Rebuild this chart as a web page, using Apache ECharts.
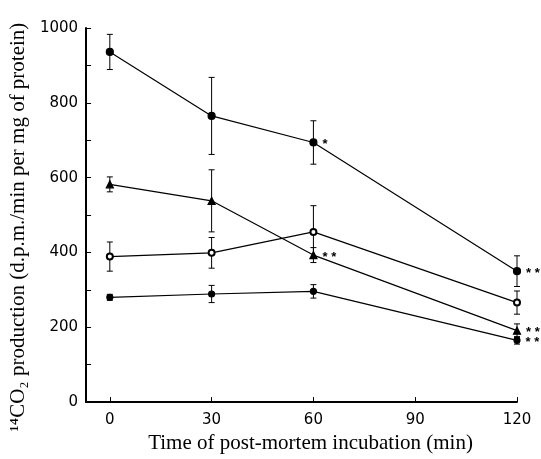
<!DOCTYPE html>
<html>
<head>
<meta charset="utf-8">
<script src="https://cdn.jsdelivr.net/npm/echarts@6/dist/echarts.min.js"></script>
<style>
html,body{margin:0;padding:0;background:#fff;}
#chart{width:541px;height:459px;}
</style>
</head>
<body>
<div id="chart"></div>
<script>
// time of incubation (min)
var tiempos = [0, 30, 60, 120];

// series values and SEM
var serieA = [936, 765, 694, 350];
var errA   = [47, 103, 58, 41];
var serieB = [582, 538, 393, 191];
var errB   = [20, 83, 20, 18];
var serieC = [389, 399, 455, 266];
var errC   = [39, 41, 70, 31];
var serieD = [280, 289, 296, 165];
var errD   = [8, 23, 18, 10];

// significance marks: [series, time, text]
var marcas = [
	[0, 60, '*'],
	[1, 60, '* *'],
	[0, 120, '* * *'],
	[1, 120, '* * *'],
	[3, 120, '* * *']
];

var xTicks = [0, 30, 60, 90, 120];
var yLabels = [0, 200, 400, 600, 800, 1000];

var valores = [serieA, serieB, serieC, serieD];
var errores = [errA, errB, errC, errD];
var simbolos = ['circle', 'triangle', 'emptyCircle', 'circle'];
var tamanos = [7, 7, 6, 6];

function armarDatos(idx)
{
	var datos = [];
	for (var i = 0; i < tiempos.length; i++) {
		var item = {value: [tiempos[i], valores[idx][i]]};
		for (var k = 0; k < marcas.length; k++) {
			if (marcas[k][0] == idx && marcas[k][1] == tiempos[i]) {
				item.label = {
					show: true,
					formatter: marcas[k][2],
					position: 'right',
					distance: 5,
					fontSize: 13,
					fontWeight: 'bold',
					color: '#000',
					offset: [0, 2]
				};
			}
		}
		datos.push(item);
	}
	return datos;
}

function armarErrores(idx)
{
	var datos = [];
	for (var i = 0; i < tiempos.length; i++) {
		datos.push([tiempos[i], valores[idx][i] - errores[idx][i], valores[idx][i] + errores[idx][i]]);
	}
	return datos;
}

function dibujarError(params, api)
{
	var x = api.value(0);
	var bajo = api.coord([x, api.value(1)]);
	var alto = api.coord([x, api.value(2)]);
	var w = 3;
	var estilo = {stroke: '#000', lineWidth: 1};
	return {
		type: 'group',
		children: [
			{type: 'line', shape: {x1: alto[0], y1: alto[1], x2: bajo[0], y2: bajo[1]}, style: estilo},
			{type: 'line', shape: {x1: alto[0] - w, y1: alto[1], x2: alto[0] + w, y2: alto[1]}, style: estilo},
			{type: 'line', shape: {x1: bajo[0] - w, y1: bajo[1], x2: bajo[0] + w, y2: bajo[1]}, style: estilo}
		]
	};
}

var series = [];
for (var s = 0; s < valores.length; s++) {
	series.push({
		type: 'custom',
		renderItem: dibujarError,
		data: armarErrores(s),
		z: 1,
		silent: true
	});
	series.push({
		type: 'line',
		data: armarDatos(s),
		symbol: simbolos[s],
		symbolSize: tamanos[s],
		showSymbol: true,
		lineStyle: {color: '#000', width: 1.2},
		itemStyle: {color: '#000', borderColor: '#000', borderWidth: 1.2},
		z: 3,
		animation: false
	});
}

var dom = document.getElementById("chart");
var myChart = echarts.init(dom);
var option = {
	animation: false,
	backgroundColor: '#fff',
	grid: {left: 82, right: 24, top: 28, bottom: 46},
	xAxis: {
		type: 'value',
		min: -7,
		max: 120,
		name: 'Time of post-mortem incubation (min)',
		nameLocation: 'middle',
		nameGap: 27,
		nameTextStyle: {fontFamily: 'Liberation Serif', fontSize: 21, color: '#000', padding: [0, 0, 0, 18]},
		axisLine: {onZero: false, lineStyle: {color: '#000', width: 2}},
		axisTick: {inside: true, length: 5, customValues: xTicks, lineStyle: {color: '#000'}},
		axisLabel: {customValues: xTicks, color: '#000', fontFamily: 'DejaVu Sans', fontSize: 15, margin: 11},
		splitLine: {show: false}
	},
	yAxis: {
		type: 'value',
		min: 0,
		max: 1000,
		interval: 100,
		name: '¹⁴CO₂ production (d.p.m./min per mg of protein)',
		nameLocation: 'middle',
		nameGap: 52,
		nameTextStyle: {fontFamily: 'Liberation Serif', fontSize: 21, color: '#000', padding: [0, 24, 0, 0]},
		axisLine: {show: true, onZero: false, lineStyle: {color: '#000', width: 2}},
		axisTick: {show: true, inside: true, length: 5, lineStyle: {color: '#000'}},
		axisLabel: {
			customValues: yLabels,
			color: '#000',
			fontFamily: 'DejaVu Sans',
			fontSize: 15,
			margin: 8,
			formatter: function (v) { return String(v); }
		},
		splitLine: {show: false}
	},
	series: series
};
myChart.setOption(option, true);
</script>
</body>
</html>
